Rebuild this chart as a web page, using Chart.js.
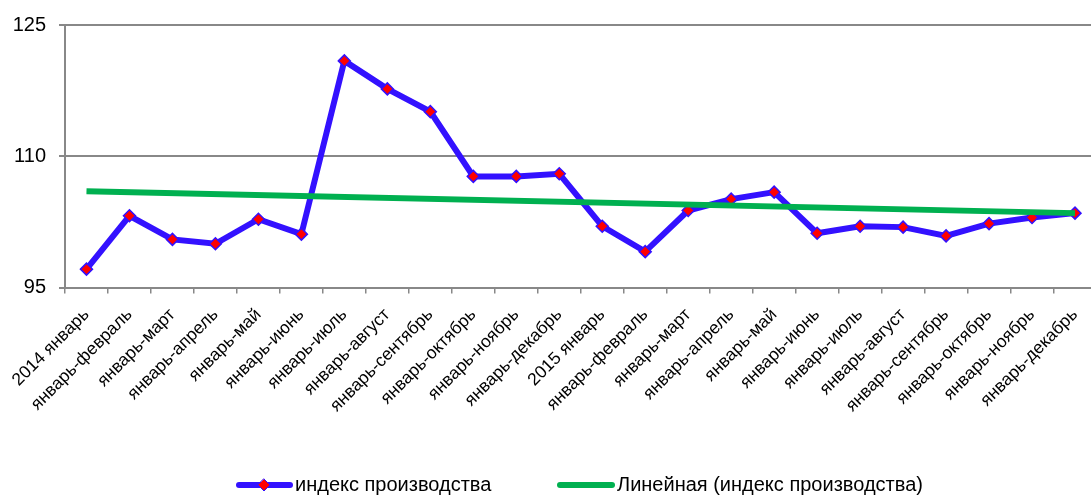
<!DOCTYPE html>
<html>
<head>
<meta charset="utf-8">
<script src="https://cdn.jsdelivr.net/npm/chart.js@4.4.1/dist/chart.umd.min.js"></script>
<style>
  html, body { margin: 0; padding: 0; background: #fff; overflow: hidden; }
  #wrap { position: relative; width: 1104px; height: 495px; }
</style>
</head>
<body>
<div id="wrap"><canvas id="c"></canvas></div>
<script>
const categories = [
  "2014 январь", "январь-февраль", "январь-март", "январь-апрель", "январь-май", "январь-июнь",
  "январь-июль", "январь-август", "январь-сентябрь", "январь-октябрь", "январь-ноябрь", "январь-декабрь",
  "2015 январь", "январь-февраль", "январь-март", "январь-апрель", "январь-май", "январь-июнь",
  "январь-июль", "январь-август", "январь-сентябрь", "январь-октябрь", "январь-ноябрь", "январь-декабрь"
];
const productionIndex = [
  97.1, 103.2, 100.5, 100.0, 102.8, 101.1,
  120.9, 117.7, 115.1, 107.7, 107.7, 108.0,
  102.0, 99.1, 103.8, 105.1, 105.9, 101.2,
  102.0, 101.9, 100.9, 102.3, 103.0, 103.5
];
const trendEnds = [106.0, 103.5];
const yTicks = [95, 110, 125];
const seriesNames = ["индекс производства", "Линейная (индекс производства)"];

const BLUE = "#3311FF", RED = "#FF0000", GREEN = "#00B050", GRID = "#888888";
const FONT = "'Liberation Sans', Arial, sans-serif";

const labelIdx = categories.map((_, i) => i);

const legendPlugin = {
  id: "customLegend",
  afterDraw(chart) {
    const ctx = chart.ctx;
    const y = 485;
    ctx.save();
    ctx.lineCap = "round";
    ctx.strokeStyle = BLUE; ctx.lineWidth = 6;
    ctx.beginPath(); ctx.moveTo(239, y); ctx.lineTo(290, y); ctx.stroke();
    ctx.fillStyle = RED; ctx.strokeStyle = BLUE; ctx.lineWidth = 1;
    ctx.beginPath(); ctx.moveTo(264, y - 6); ctx.lineTo(270, y); ctx.lineTo(264, y + 6); ctx.lineTo(258, y); ctx.closePath();
    ctx.fill(); ctx.stroke();
    ctx.strokeStyle = GREEN; ctx.lineWidth = 6;
    ctx.beginPath(); ctx.moveTo(560, y); ctx.lineTo(612, y); ctx.stroke();
    ctx.fillStyle = "#000";
    ctx.font = "20px " + FONT;
    ctx.textBaseline = "middle";
    ctx.textAlign = "left";
    ctx.fillText(chart.data.datasets[0].label, 295, y);
    ctx.fillText(chart.data.datasets[1].label, 617, y);
    ctx.restore();
  }
};

new Chart(document.getElementById("c"), {
  type: "line",
  data: {
    labels: labelIdx,
    datasets: [
      {
        label: seriesNames[0],
        data: productionIndex,
        borderColor: BLUE,
        borderWidth: 6,
        pointStyle: "rectRot",
        pointRadius: 6,
        pointBackgroundColor: RED,
        pointBorderColor: BLUE,
        pointBorderWidth: 1.5,
        tension: 0,
        order: 2
      },
      {
        label: seriesNames[1],
        data: [{ x: 0, y: trendEnds[0] }, { x: categories.length - 1, y: trendEnds[1] }],
        borderColor: GREEN,
        borderWidth: 6,
        pointRadius: 0,
        tension: 0,
        order: 1
      }
    ]
  },
  options: {
    responsive: true,
    maintainAspectRatio: false,
    animation: false,
    layout: { padding: { top: 23, right: 0, left: 0, bottom: 0 } },
    plugins: { legend: { display: false }, tooltip: { enabled: false } },
    scales: {
      x: {
        type: "category",
        offset: true,
        grid: { display: true, drawOnChartArea: false, drawTicks: true, tickLength: 6, color: GRID, lineWidth: 1.5, offset: true },
        border: { display: true, color: GRID, width: 2 },
        ticks: {
          autoSkip: false, maxRotation: 45, minRotation: 45,
          font: { family: FONT, size: 17.5 }, color: "#000", padding: 11,
          callback: (v, i) => categories[i]
        },
        afterFit: (s) => { s.height = 207.5; }
      },
      y: {
        min: yTicks[0], max: yTicks[yTicks.length - 1],
        afterBuildTicks: (s) => { s.ticks = yTicks.map(v => ({ value: v })); },
        grid: { color: GRID, lineWidth: 2, tickLength: 6, drawTicks: true },
        border: { display: true, color: GRID, width: 2 },
        ticks: { font: { family: FONT, size: 20 }, color: "#000", padding: 13 },
        afterFit: (s) => { s.width = 65; }
      }
    }
  },
  plugins: [legendPlugin]
});
</script>
</body>
</html>
